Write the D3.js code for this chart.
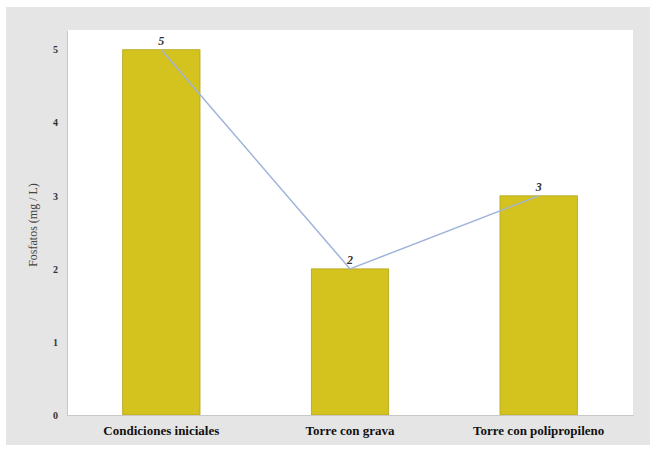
<!DOCTYPE html>
<html>
<head>
<meta charset="utf-8">
<script src="https://cdn.jsdelivr.net/npm/d3@7"></script>
<style>
  html, body { margin: 0; padding: 0; background: #ffffff; }
  svg { display: block; }
  svg text { font-family: "Liberation Serif", "DejaVu Serif", serif !important; }
</style>
</head>
<body>
<svg id="chart" width="657" height="450"></svg>
<script>
// Phosphate concentration by treatment stage
const categories = ["Condiciones iniciales", "Torre con grava", "Torre con polipropileno"];
const fosfatos = [5, 2, 3];
const yTicks = [0, 1, 2, 3, 4, 5];
const yTitle = "Fosfatos (mg / L)";

const svg = d3.select("#chart");

// outer grey panel
svg.append("rect")
  .attr("x", 6).attr("y", 7)
  .attr("width", 644).attr("height", 438)
  .attr("fill", "#e5e5e5");

const plot = { left: 67, right: 633, top: 30, bottom: 415 };

// white plotting area
svg.append("rect")
  .attr("x", plot.left).attr("y", plot.top)
  .attr("width", plot.right - plot.left).attr("height", plot.bottom - plot.top)
  .attr("fill", "#ffffff");

const x = d3.scaleBand()
  .domain(categories)
  .range([plot.left, plot.right])
  .paddingInner(0.59)
  .paddingOuter(0.295);

const y = d3.scaleLinear()
  .domain([0, 5.27])
  .range([plot.bottom, plot.top]);

// bars
svg.append("g").selectAll("rect")
  .data(categories)
  .join("rect")
  .attr("x", d => x(d))
  .attr("y", (d, i) => y(fosfatos[i]))
  .attr("width", x.bandwidth())
  .attr("height", (d, i) => y(0) - y(fosfatos[i]))
  .attr("fill", "#d4c21f")
  .attr("stroke", "#b3a417")
  .attr("stroke-width", 0.8);

// connecting line through bar tops
const line = d3.line()
  .x((d, i) => x(categories[i]) + x.bandwidth() / 2)
  .y(d => y(d));

svg.append("path")
  .datum(fosfatos)
  .attr("d", line)
  .attr("fill", "none")
  .attr("stroke", "#9fb4d8")
  .attr("stroke-width", 1.5);

// value labels
svg.append("g").selectAll("text")
  .data(fosfatos)
  .join("text")
  .attr("x", (d, i) => x(categories[i]) + x.bandwidth() / 2)
  .attr("y", d => y(d) - 5)
  .attr("text-anchor", "middle")
  .attr("font-size", 12)
  .attr("font-weight", "bold")
  .attr("font-style", "italic")
  .attr("fill", "#333")
  .text(d => d);

// axes
const yAxis = d3.axisLeft(y).tickValues(yTicks).tickSize(0).tickPadding(9).tickFormat(d3.format("d"));
const gy = svg.append("g")
  .attr("transform", `translate(${plot.left},0)`)
  .call(yAxis);
gy.select(".domain").attr("stroke", "#c8c8c8");
gy.selectAll("text")
  .attr("font-size", 10)
  .attr("font-weight", "bold")
  .attr("fill", "#333");

const xAxis = d3.axisBottom(x).tickSize(0).tickPadding(11);
const gx = svg.append("g")
  .attr("transform", `translate(0,${plot.bottom})`)
  .call(xAxis);
gx.select(".domain").attr("stroke", "#c8c8c8");
gx.selectAll("text")
  .attr("font-size", 13)
  .attr("font-weight", "bold")
  .attr("fill", "#111");

// y axis title
svg.append("text")
  .attr("transform", "translate(37,225) rotate(-90)")
  .attr("text-anchor", "middle")
  .attr("font-size", 12)
  .attr("fill", "#444")
  .text(yTitle);
</script>
</body>
</html>
